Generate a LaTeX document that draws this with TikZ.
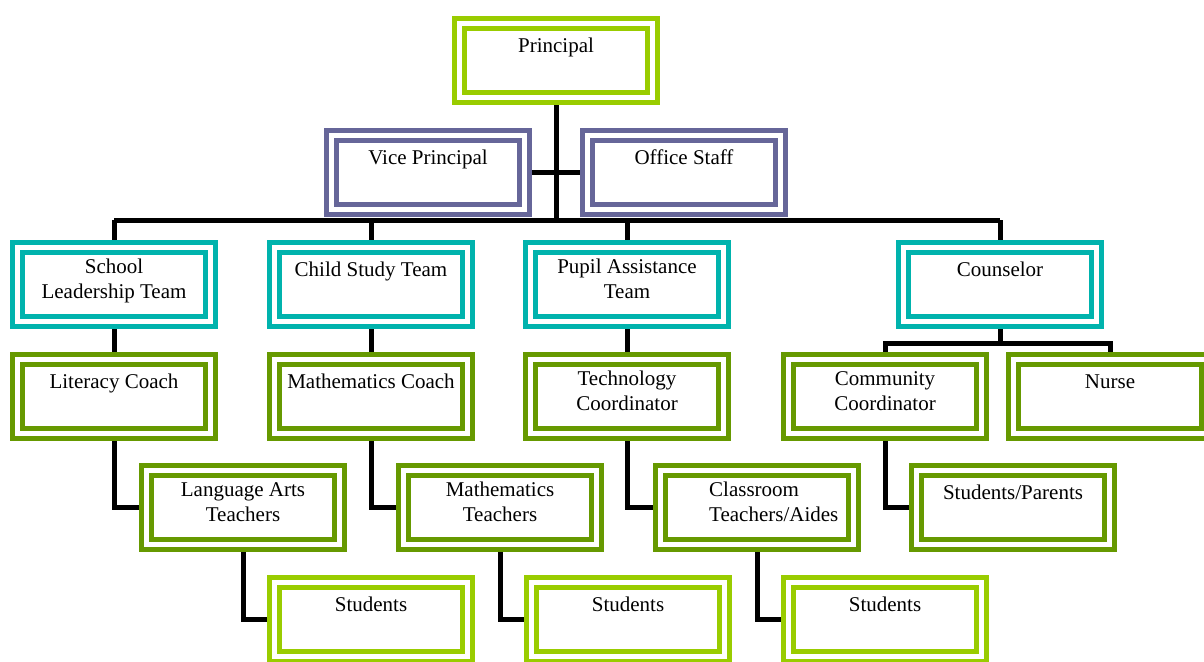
\documentclass[tikz,border=0pt]{standalone}
\usepackage{fontspec}
\setmainfont{Liberation Serif}
\usetikzlibrary{backgrounds}

\definecolor{limegreen}{HTML}{99CC00}
\definecolor{olivegreen}{HTML}{669900}
\definecolor{slatepurple}{HTML}{666699}
\definecolor{tealblue}{HTML}{00B3AD}

\tikzset{
  orgbox/.style={draw=#1, line width=5pt, double=white, double distance=5pt,
    fill=white, minimum width=193pt, minimum height=74pt, inner sep=0pt, outer sep=0pt},
  lbl/.style={anchor=north, inner sep=0pt, align=center,
    font=\fontsize{21}{25}\selectfont, execute at begin node=\strut},
  conn/.style={line width=5pt, black}
}

% #1 name, #2 colour, #3 left edge, #4 top edge (px from top), #5 text
\newcommand{\orgunit}[5]{%
  \node[orgbox=#2] (#1) at ({#3+104},{-#4-44.5}) {};
  \node[lbl] (#1-txt) at ([yshift=-11.5pt]#1.north) {#5};%
}

\begin{document}
\begin{tikzpicture}[x=1pt,y=1pt]
  \useasboundingbox (0,0) rectangle (1204,-661);
  \clip (0,0) rectangle (1204,-661);

  % top level
  \orgunit{principal}{limegreen}{452}{16}{Principal}
  \orgunit{vice}{slatepurple}{324}{128}{Vice Principal}
  \orgunit{office}{slatepurple}{580}{128}{Office Staff}

  % teams
  \orgunit{slt}{tealblue}{10}{240}{School\\Leadership Team}
  \orgunit{cst}{tealblue}{267}{240}{Child Study Team}
  \orgunit{pat}{tealblue}{523}{240}{Pupil Assistance\\Team}
  \orgunit{couns}{tealblue}{896}{240}{Counselor}

  % coaches and coordinators
  \orgunit{lit}{olivegreen}{10}{352}{Literacy Coach}
  \orgunit{mathc}{olivegreen}{267}{352}{Mathematics Coach}
  \orgunit{tech}{olivegreen}{523}{352}{Technology\\Coordinator}
  \orgunit{comm}{olivegreen}{781}{352}{Community\\Coordinator}
  \orgunit{nurse}{olivegreen}{1006}{352}{Nurse}

  % teachers
  \orgunit{lat}{olivegreen}{139}{463}{Language Arts\\Teachers}
  \orgunit{matht}{olivegreen}{396}{463}{Mathematics\\Teachers}
  \node[orgbox=olivegreen] (class) at (757,-507.5) {};
  \node[lbl, align=left, anchor=north west] (class-txt)
    at ([xshift=-48pt,yshift=-11.5pt]class.north) {Classroom\\Teachers/Aides};
  \orgunit{sp}{olivegreen}{909}{463}{Students/Parents}

  % students
  \orgunit{stuA}{limegreen}{267}{575}{Students}
  \orgunit{stuB}{limegreen}{524}{575}{Students}
  \orgunit{stuC}{limegreen}{781}{575}{Students}

  \coordinate (bus) at (0,-220);
  \coordinate (cbus) at (0,-343);

  \begin{pgfonlayer}{background}
    \draw[conn] (principal.south) -- (principal.south |- bus);
    \draw[conn] (vice.east) -- (office.west);
    \draw[conn] (slt.north |- bus) -- (couns.north |- bus);
    \foreach \n in {slt,cst,pat,couns}
      \draw[conn] (\n.north |- bus) -- (\n.north);
    \draw[conn] (slt.south) -- (lit.north);
    \draw[conn] (cst.south) -- (mathc.north);
    \draw[conn] (pat.south) -- (tech.north);
    \draw[conn] (couns.south) -- (couns.south |- cbus);
    \draw[conn] (comm.north) -- (comm.north |- cbus) -- (nurse.north |- cbus) -- (nurse.north);
    \draw[conn] (lit.south) |- (lat.west);
    \draw[conn] (mathc.south) |- (matht.west);
    \draw[conn] (tech.south) |- (class.west);
    \draw[conn] (comm.south) |- (sp.west);
    \draw[conn] (lat.south) |- (stuA.west);
    \draw[conn] (matht.south) |- (stuB.west);
    \draw[conn] (class.south) |- (stuC.west);
  \end{pgfonlayer}
\end{tikzpicture}
\end{document}
